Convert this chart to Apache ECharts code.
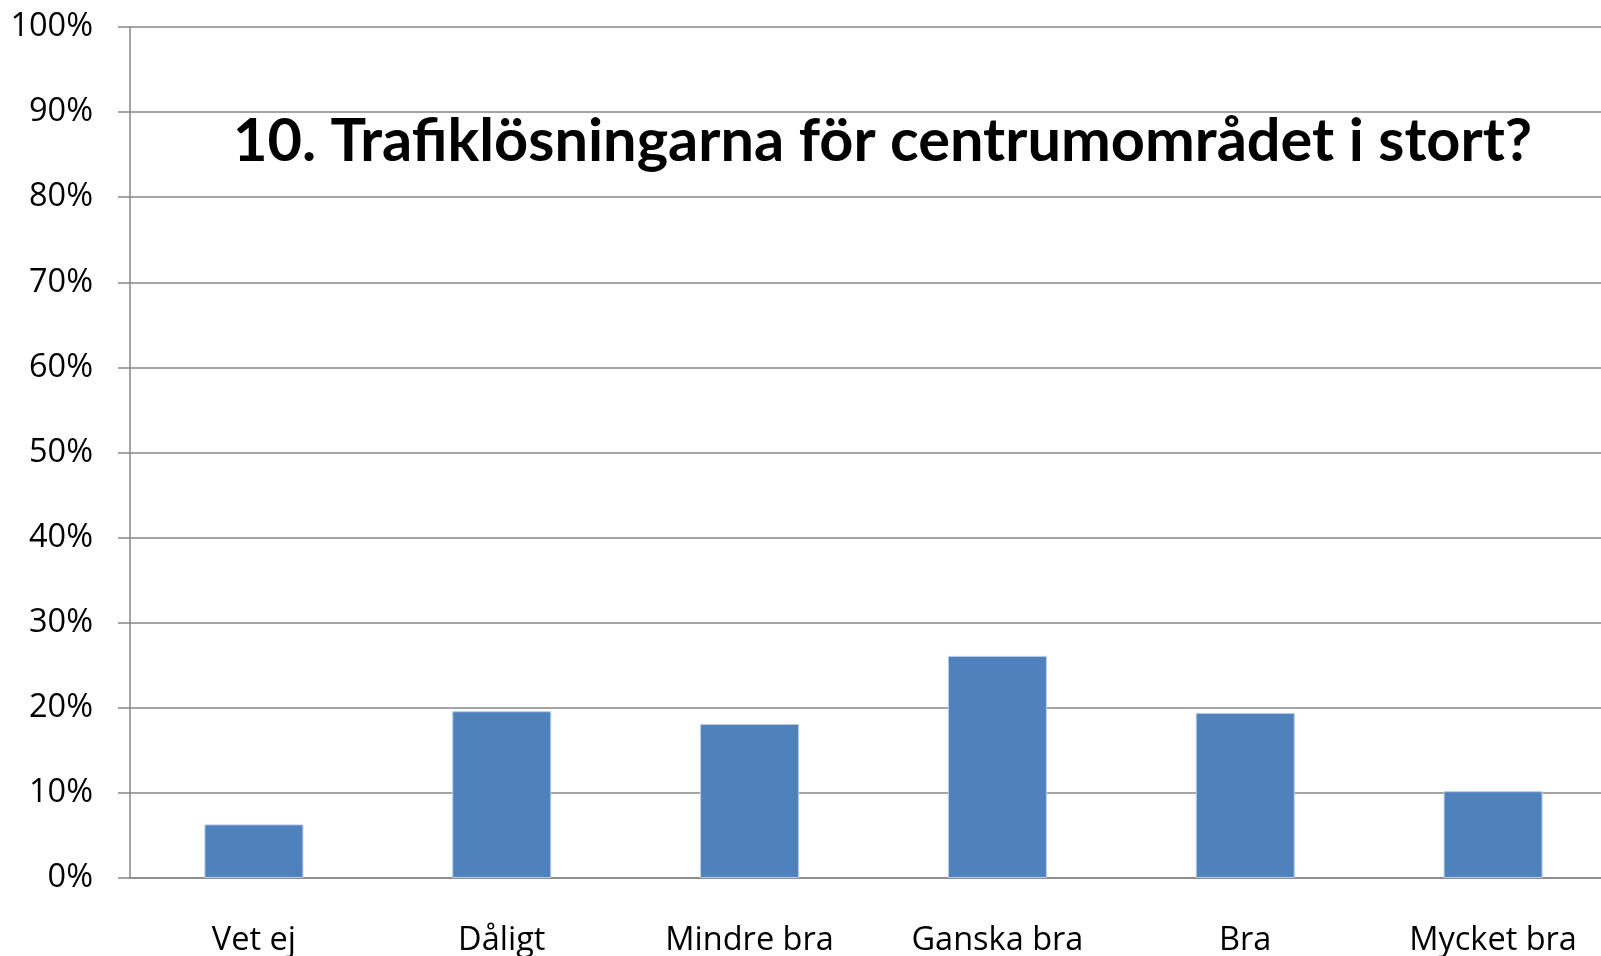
<!DOCTYPE html>
<html>
<head>
<meta charset="utf-8">
<script src="https://cdn.jsdelivr.net/npm/echarts@6/dist/echarts.min.js"></script>
<style>
  html, body { margin: 0; padding: 0; background: #fff; }
  #chart { width: 1601px; height: 956px; }
</style>
</head>
<body>
<div id="chart"></div>
<script>
// kategorier och andelar (%)
var categories = ['Vet ej', 'Dåligt', 'Mindre bra', 'Ganska bra', 'Bra', 'Mycket bra'];
var values = [6.3, 19.6, 18.1, 26.1, 19.4, 10.2];
var titleText = '10. Trafiklösningarna för centrumområdet i stort?';

var chart = echarts.init(document.getElementById('chart'));
var option = {
  animation: false,
  title: {
    text: titleText,
    left: 228,
    top: 107,
    textStyle: {
      fontFamily: 'Lato',
      fontWeight: 'bold',
      fontSize: 59.5,
      color: '#000'
    }
  },
  grid: {
    left: 130,
    top: 27,
    width: 1487,
    bottom: 78,
    outerBoundsMode: 'none',
    containLabel: false
  },
  xAxis: {
    type: 'category',
    data: categories,
    axisLine: { lineStyle: { color: '#868686', width: 1.5 } },
    axisTick: { length: 12, lineStyle: { color: '#868686', width: 1.5 } },
    axisLabel: {
      margin: 46,
      fontFamily: 'Open Sans',
      fontSize: 32.5,
      color: '#000'
    }
  },
  yAxis: {
    type: 'value',
    min: 0,
    max: 100,
    interval: 10,
    axisLine: { show: true, lineStyle: { color: '#868686', width: 1.5 } },
    axisTick: { show: true, inside: false, length: 12, lineStyle: { color: '#868686', width: 1.5 } },
    splitLine: { lineStyle: { color: '#868686', width: 1.5 } },
    axisLabel: {
      margin: 37,
      fontFamily: 'Open Sans',
      fontSize: 32.5,
      color: '#000',
      formatter: '{value}%'
    }
  },
  series: [{
    type: 'bar',
    data: values,
    barWidth: 99,
    itemStyle: {
      color: '#4F81BD',
      borderColor: '#b9cde5',
      borderWidth: 1
    }
  }]
};
chart.setOption(option);
</script>
</body>
</html>
